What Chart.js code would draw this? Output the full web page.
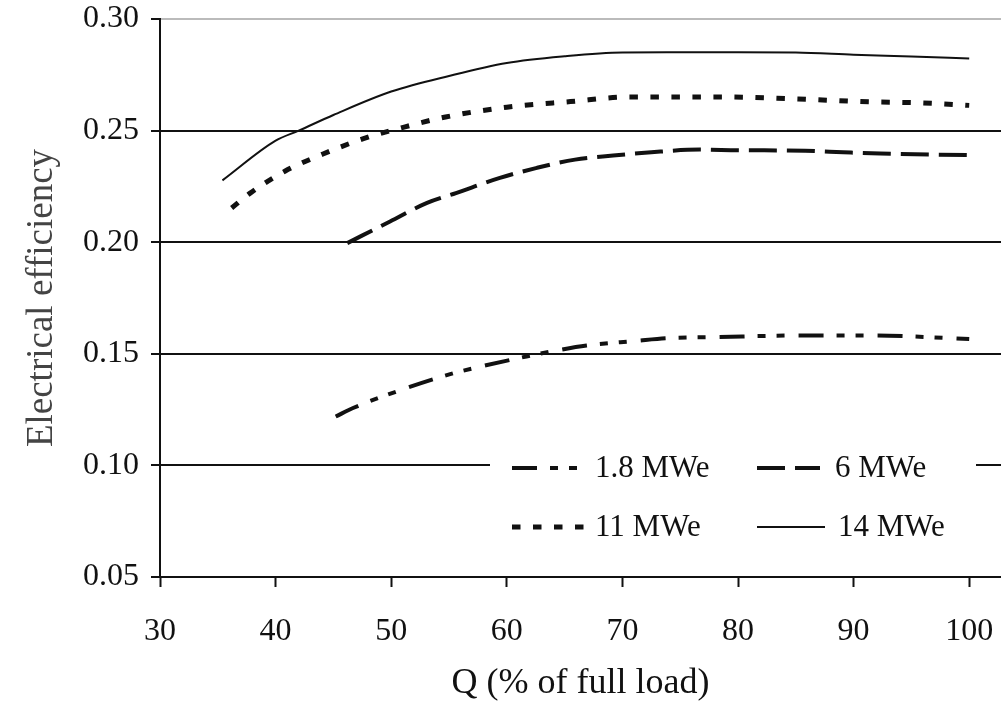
<!DOCTYPE html>
<html>
<head>
<meta charset="utf-8">
<script src="https://cdn.jsdelivr.net/npm/chart.js@4"></script>
<style>
  body { margin: 0; background: #fff; }
  canvas { display: block; }
</style>
</head>
<body>
<canvas id="effChart" width="1001" height="715"></canvas>
<script>
// Values (Q in % of full load, electrical efficiency)
const seriesLabels = ['1.8 MWe', '6 MWe', '11 MWe', '14 MWe'];

const q18 = [45.2, 46.7, 50.9, 55.1, 57.5, 61.7, 64.3, 66.9, 71.2, 73.8, 78.2, 85.1, 92, 96.3, 100];
const eff18 = [0.1219, 0.1257, 0.1339, 0.1409, 0.1440, 0.1488, 0.1515, 0.1537, 0.1558, 0.1570, 0.1575, 0.1582, 0.1582, 0.1575, 0.1566];

const q6 = [46.2, 49.9, 53.1, 55.6, 59.4, 62.6, 65.9, 69.2, 72.5, 76.7, 80, 85.8, 89.1, 92.3, 100];
const eff6 = [0.1996, 0.2093, 0.2176, 0.2220, 0.2288, 0.2333, 0.2370, 0.2388, 0.2403, 0.2415, 0.2412, 0.2410, 0.2403, 0.2397, 0.2390];

const q11 = [36.2, 37.8, 40.8, 44.1, 47.6, 51.2, 54.7, 60, 65.5, 70.7, 78, 85.2, 90.6, 95.9, 100];
const eff11 = [0.2153, 0.2220, 0.2318, 0.2395, 0.2464, 0.2517, 0.2561, 0.2605, 0.2630, 0.2651, 0.2651, 0.2642, 0.2630, 0.2624, 0.2613];

const q14 = [35.4, 40, 42, 45, 50, 55, 60, 65, 70, 75, 80, 85, 90, 95, 100];
const eff14 = [0.2277, 0.2455, 0.2500, 0.2570, 0.2675, 0.2745, 0.2803, 0.2833, 0.2850, 0.2851, 0.2851, 0.2850, 0.2840, 0.2832, 0.2823];

const xTitle = 'Q (% of full load)';
const yTitle = 'Electrical efficiency';

const SERIF = '"Liberation Serif", "Times New Roman", serif';

function toPoints(xs, ys) {
    return xs.map((x, i) => ({ x: x, y: ys[i] }));
}

const lineStyles = [
    { width: 4, dash: [25, 13, 8, 11, 8, 14] },
    { width: 4, dash: [28, 10] },
    { width: 5, dash: [8.5, 12.5] },
    { width: 2, dash: [] }
];

const allData = [toPoints(q18, eff18), toPoints(q6, eff6), toPoints(q11, eff11), toPoints(q14, eff14)];

const datasets = allData.map((pts, i) => ({
    label: seriesLabels[i],
    data: pts,
    borderColor: '#111',
    borderWidth: lineStyles[i].width,
    borderDash: lineStyles[i].dash,
    borderCapStyle: 'butt',
    pointRadius: 0,
    fill: false,
    cubicInterpolationMode: 'monotone'
}));

// legend in a white box inside the plot, two columns
const boxLegend = {
    id: 'boxLegend',
    afterDatasetsDraw(chart) {
        const ctx = chart.ctx;
        const slots = [
            { x: 512, y: 468, len: 70, tx: 595 },
            { x: 757, y: 468, len: 63, tx: 835 },
            { x: 512, y: 527, len: 76, tx: 595 },
            { x: 757, y: 527, len: 68, tx: 838 }
        ];
        ctx.save();
        ctx.fillStyle = '#fff';
        ctx.fillRect(490, 442, 486, 112);
        chart.data.datasets.forEach((ds, i) => {
            const s = slots[i];
            ctx.beginPath();
            ctx.setLineDash(ds.borderDash);
            ctx.lineDashOffset = 0;
            ctx.lineWidth = ds.borderWidth;
            ctx.lineCap = 'butt';
            ctx.strokeStyle = '#111';
            ctx.moveTo(s.x, s.y);
            ctx.lineTo(s.x + s.len, s.y);
            ctx.stroke();
            ctx.setLineDash([]);
            ctx.fillStyle = '#111';
            ctx.font = '31px ' + SERIF;
            ctx.textBaseline = 'middle';
            ctx.textAlign = 'left';
            ctx.fillText(ds.label, s.tx, s.y + 1);
        });
        ctx.restore();
    }
};

new Chart(document.getElementById('effChart'), {
    type: 'line',
    data: { datasets: datasets },
    options: {
        responsive: false,
        animation: false,
        layout: { padding: { top: 19, left: 0, right: 0, bottom: 0 } },
        plugins: {
            legend: { display: false },
            tooltip: { enabled: false }
        },
        scales: {
            x: {
                type: 'linear',
                min: 30,
                max: 102.75,
                afterBuildTicks(scale) {
                    scale.ticks = scale.ticks.filter(t => t.value <= 100 + 1e-9);
                },
                afterFit(scale) {
                    scale.height = 138;
                    scale.paddingLeft = 0;
                    scale.paddingRight = 0;
                },
                ticks: {
                    stepSize: 10,
                    includeBounds: false,
                    color: '#111',
                    padding: 25,
                    maxRotation: 0,
                    font: { family: SERIF, size: 32 }
                },
                grid: {
                    drawOnChartArea: false,
                    drawTicks: true,
                    tickLength: 10,
                    tickColor: '#111',
                    tickWidth: 2
                },
                border: { display: true, color: '#111', width: 2 },
                title: {
                    display: true,
                    text: xTitle,
                    color: '#111',
                    padding: { top: 0, bottom: 10 },
                    font: { family: SERIF, size: 36 }
                }
            },
            y: {
                min: 0.05,
                max: 0.30,
                afterFit(scale) {
                    scale.width = 160;
                    scale.paddingTop = 0;
                    scale.paddingBottom = 0;
                },
                ticks: {
                    stepSize: 0.05,
                    color: '#111',
                    padding: 12,
                    font: { family: SERIF, size: 32 },
                    callback: v => Number(v).toFixed(2)
                },
                grid: {
                    color: c => (c.tick && c.tick.value > 0.299 ? '#bbb' : '#111'),
                    lineWidth: 2,
                    tickLength: 9,
                    tickColor: '#111',
                    tickWidth: 2
                },
                border: { display: true, color: '#111', width: 2 },
                title: {
                    display: true,
                    text: yTitle,
                    color: '#444',
                    padding: { top: 20, bottom: 0 },
                    font: { family: SERIF, size: 37 }
                }
            }
        }
    },
    plugins: [boxLegend]
});
</script>
</body>
</html>
